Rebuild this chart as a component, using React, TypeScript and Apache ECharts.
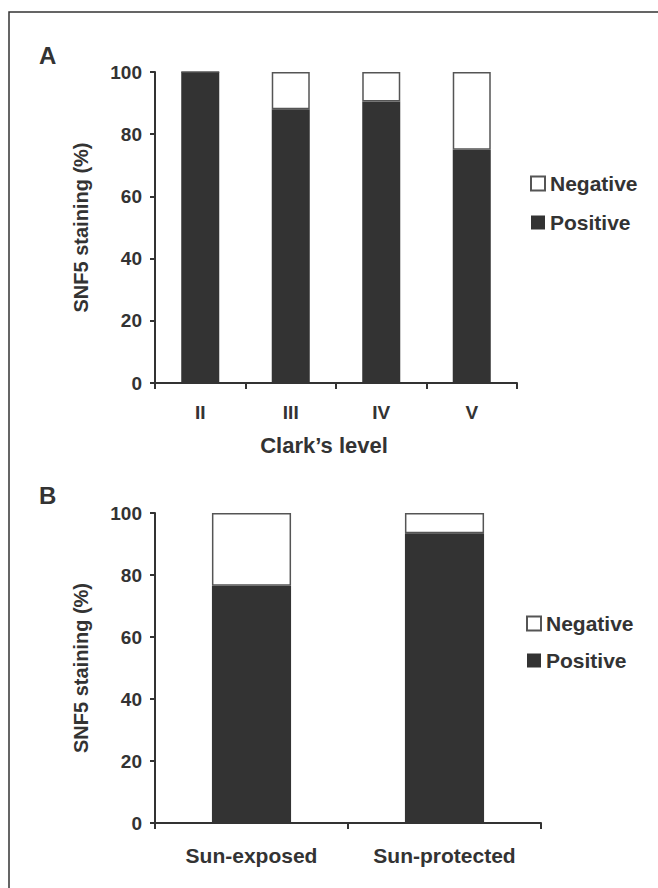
import React, { useEffect, useRef } from "react";
import * as echarts from "echarts";

const categoriesA = ["II", "III", "IV", "V"];
const positiveA = [100, 88, 90.5, 75];
const negativeA = [0, 12, 9.5, 25];

const categoriesB = ["Sun-exposed", "Sun-protected"];
const positiveB = [76.5, 93.5];
const negativeB = [23.5, 6.5];

const yTicks = [0, 20, 40, 60, 80, 100];

const FONT = "'Liberation Sans', Arial, Helvetica, sans-serif";
const INK = "#333333";

export default function App() {
  const ref = useRef<HTMLDivElement>(null);
  useEffect(() => {
    if (!ref.current) return;
    const chart = echarts.init(ref.current, null, { renderer: "svg" });
    const yAxisBase = (gridIndex: number) => ({
      type: "value",
      gridIndex,
      min: yTicks[0],
      max: yTicks[yTicks.length - 1],
      interval: 20,
      name: "SNF5 staining (%)",
      nameLocation: "middle",
      nameGap: 64,
      nameTextStyle: { fontFamily: FONT, fontWeight: "bold", fontSize: 20, color: INK },
      axisLine: { show: true, lineStyle: { color: INK, width: 2 } },
      axisTick: { show: true, length: 5, lineStyle: { color: INK, width: 2 } },
      axisLabel: { fontFamily: FONT, fontWeight: "bold", fontSize: 19, color: INK, margin: 13 },
      splitLine: { show: false },
    });
    const xAxisBase = (gridIndex: number, data: string[], margin: number, fontSize: number) => ({
      type: "category",
      gridIndex,
      data,
      boundaryGap: true,
      axisLine: { show: true, lineStyle: { color: INK, width: 2 } },
      axisTick: { show: true, length: 6, alignWithLabel: false, lineStyle: { color: INK, width: 2 } },
      axisLabel: { fontFamily: FONT, fontWeight: "bold", fontSize, color: INK, margin, interval: 0 },
    });
    const legendBase = (left: number, top: number, gap: number) => ({
      orient: "vertical",
      left,
      top,
      itemWidth: 14,
      itemHeight: 14,
      itemGap: gap,
      icon: "rect",
      data: ["Negative", "Positive"],
      textStyle: { fontFamily: FONT, fontWeight: "bold", fontSize: 21, color: INK },
      selectedMode: false,
    });
    const posStyle = { color: INK };
    const negStyle = { color: "#ffffff", borderColor: "#555555", borderWidth: 1.5 };
    chart.setOption({
      animation: false,
      backgroundColor: "#ffffff",
      grid: [
        { left: 155, top: 72, width: 362, height: 311, outerBoundsMode: "none", containLabel: false },
        { left: 155, top: 513, width: 386, height: 310, outerBoundsMode: "none", containLabel: false },
      ],
      xAxis: [
        {
          ...xAxisBase(0, categoriesA, 20, 19),
          name: "Clark\u2019s level",
          nameLocation: "middle",
          nameGap: 51,
          nameTextStyle: {
            fontFamily: FONT,
            fontWeight: "bold",
            fontSize: 22,
            color: INK,
            padding: [0, 24, 0, 0],
          },
        },
        xAxisBase(1, categoriesB, 22, 21),
      ],
      yAxis: [yAxisBase(0), yAxisBase(1)],
      legend: [legendBase(525, 168, 18), legendBase(521, 608, 16)],
      graphic: [
        {
          type: "rect",
          shape: { x: 9, y: 12, width: 700, height: 900 },
          style: { fill: "none", stroke: INK, lineWidth: 1.5 },
          silent: true,
        },
        {
          type: "text",
          left: 39,
          top: 43,
          style: { text: "A", fontFamily: FONT, fontWeight: "bold", fontSize: 24, fill: INK },
        },
        {
          type: "text",
          left: 39,
          top: 483,
          style: { text: "B", fontFamily: FONT, fontWeight: "bold", fontSize: 24, fill: INK },
        },
      ],
      series: [
        {
          name: "Positive",
          type: "bar",
          stack: "a",
          xAxisIndex: 0,
          yAxisIndex: 0,
          barWidth: "42%",
          data: positiveA,
          itemStyle: posStyle,
        },
        {
          name: "Negative",
          type: "bar",
          stack: "a",
          xAxisIndex: 0,
          yAxisIndex: 0,
          barWidth: "42%",
          data: negativeA,
          itemStyle: negStyle,
        },
        {
          name: "Positive",
          type: "bar",
          stack: "b",
          xAxisIndex: 1,
          yAxisIndex: 1,
          barWidth: "41%",
          data: positiveB,
          itemStyle: posStyle,
        },
        {
          name: "Negative",
          type: "bar",
          stack: "b",
          xAxisIndex: 1,
          yAxisIndex: 1,
          barWidth: "41%",
          data: negativeB,
          itemStyle: negStyle,
        },
      ],
    });
    return () => chart.dispose();
  }, []);
  return (
    <div
      ref={ref}
      style={{ position: "fixed", left: 0, top: 0, width: 658, height: 888, background: "#fff" }}
    />
  );
}
